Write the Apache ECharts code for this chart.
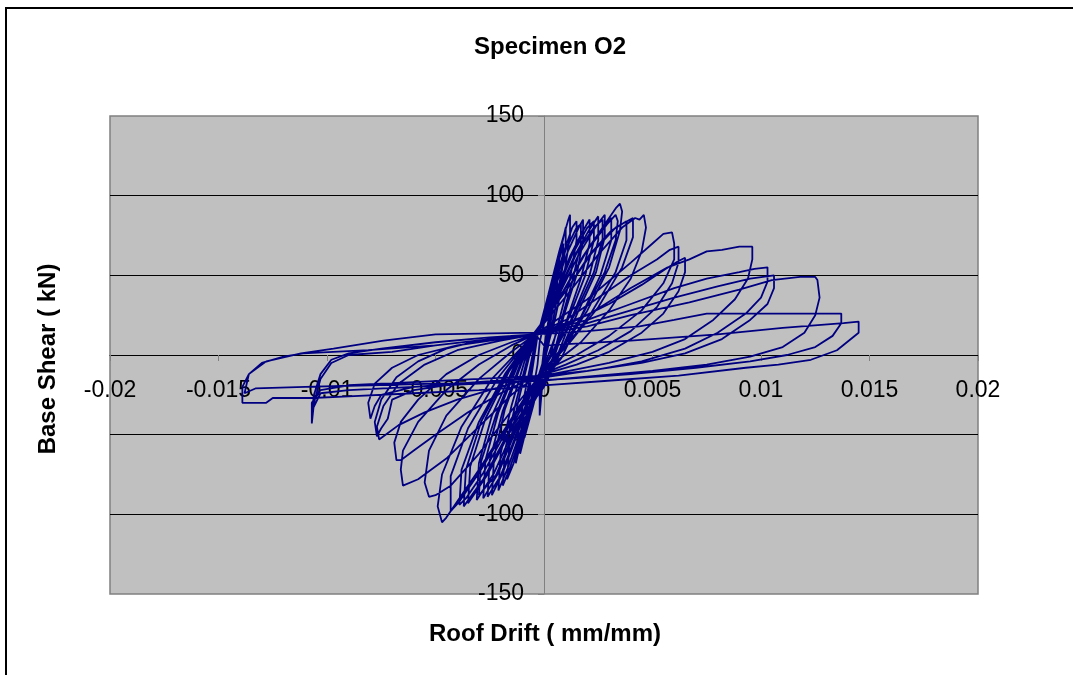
<!DOCTYPE html>
<html>
<head>
<meta charset="utf-8">
<script src="https://cdn.jsdelivr.net/npm/echarts@6/dist/echarts.min.js"></script>
<style>
html,body{margin:0;padding:0;background:#fff;}
#c{width:1073px;height:675px;}
</style>
</head>
<body>
<div id="c"></div>
<script>
// ---- axis ticks ----
const xTicks = [-0.02, -0.015, -0.01, -0.005, 0, 0.005, 0.01, 0.015, 0.02];
const xTickLabels = ['-0.02', '-0.015', '-0.01', '-0.005', '0', '0.005', '0.01', '0.015', '0.02'];
const yTicks = [-150, -100, -50, 0, 50, 100, 150];
const yTickLabels = ['-150', '-100', '-50', '0', '50', '100', '150'];

// ---- hysteresis cycles: [roof drift (mm/mm), base shear (kN)] ----
const cycle01 = [[0,0],[0.0002,18],[0.0004,38],[0.0005,45],[0.0004,30],[0.0002,10],[0.0,-8],[-0.0001,-22],[-0.0002,-38],[-0.0002,-25],[-0.0001,-8],[0.0,4]];
const cycle02 = [[0.0,4],[0.0003,30],[0.0006,52],[0.0007,60],[0.0006,44],[0.0003,20],[0.0,-2],[-0.0003,-18],[-0.0005,-30],[-0.0006,-37],[-0.0005,-22],[-0.0003,-6],[-0.0002,8]];
const cycle03 = [[-0.0002,8],[0.0002,32],[0.0006,55],[0.0009,70],[0.0008,52],[0.0005,28],[0.0002,6],[-0.0001,-10],[-0.0005,-32],[-0.0009,-52],[-0.0008,-35],[-0.0006,-15],[-0.0003,12]];
const cycle03b = [[-0.0003,12],[0.0002,36],[0.0007,62],[0.001,80],[0.001,68],[0.0007,42],[0.0003,14],[-0.0002,-12],[-0.0007,-40],[-0.0011,-62],[-0.001,-44],[-0.0007,-18],[-0.0003,12]];
const cycle04 = [[-0.0003,12],[0.0002,38],[0.0007,65],[0.0011,84],[0.0012,88],[0.0012,75],[0.0009,48],[0.0005,22],[0.0001,2],[-0.0003,-15],[-0.0008,-42],[-0.0012,-62],[-0.0013,-68],[-0.0012,-50],[-0.0009,-25],[-0.0005,2],[-0.0003,13]];
const cycle05 = [[-0.0003,13],[0.0003,38],[0.0009,64],[0.0013,80],[0.0015,84],[0.0015,72],[0.0012,48],[0.0007,22],[0.0003,0],[-0.0001,-12],[-0.0009,-45],[-0.0014,-68],[-0.0017,-78],[-0.0016,-58],[-0.0012,-30],[-0.0007,-2],[-0.0003,13]];
const cycle05b = [[-0.0003,13],[0.0004,40],[0.001,66],[0.0015,80],[0.0017,82],[0.0017,70],[0.0013,46],[0.0008,22],[0.0002,0],[-0.0004,-18],[-0.001,-48],[-0.0016,-72],[-0.0019,-82],[-0.0018,-60],[-0.0013,-30],[-0.0008,-4],[-0.0003,13]];
const cycle06 = [[-0.0003,13],[0.0004,38],[0.0011,65],[0.0016,80],[0.0018,85],[0.0018,72],[0.0015,50],[0.0009,24],[0.0004,-2],[-0.0001,-16],[-0.001,-45],[-0.0017,-72],[-0.0021,-85],[-0.002,-62],[-0.0015,-32],[-0.0009,-4],[-0.0003,13]];
const cycle07 = [[-0.0003,13],[0.0005,38],[0.0012,62],[0.0018,78],[0.0021,85],[0.0021,70],[0.0017,48],[0.0011,24],[0.0005,0],[0.0,-18],[-0.0011,-45],[-0.0019,-74],[-0.0024,-88],[-0.0023,-64],[-0.0018,-34],[-0.001,-4],[-0.0003,13]];
const cycle07b = [[-0.0003,13],[0.0006,40],[0.0013,63],[0.002,80],[0.0023,84],[0.0023,72],[0.0019,50],[0.0012,25],[0.0004,2],[-0.0004,-16],[-0.0012,-47],[-0.002,-76],[-0.0026,-89],[-0.0025,-66],[-0.0019,-35],[-0.0011,-6],[-0.0003,13]];
const cycle08 = [[-0.0003,13],[0.0006,38],[0.0014,62],[0.0021,79],[0.0025,87],[0.0025,72],[0.0021,50],[0.0013,24],[0.0006,-1],[0.0001,-15],[-0.0012,-44],[-0.0021,-74],[-0.0028,-90],[-0.0027,-66],[-0.0021,-36],[-0.0012,-6],[-0.0003,13]];
const cycle08b = [[-0.0003,13],[0.0007,40],[0.0015,64],[0.0023,80],[0.0027,85],[0.0027,73],[0.0023,52],[0.0014,25],[0.0005,3],[-0.0003,-15],[-0.0013,-46],[-0.0022,-75],[-0.003,-88],[-0.0029,-67],[-0.0022,-37],[-0.0013,-7],[-0.0003,13]];
const cycle09 = [[-0.0003,13],[0.0007,38],[0.0016,63],[0.0024,81],[0.0028,88],[0.0028,74],[0.0024,52],[0.0015,25],[0.0007,0],[0.0,-20],[-0.0013,-44],[-0.0023,-74],[-0.0031,-91],[-0.003,-68],[-0.0024,-38],[-0.0014,-8],[-0.0004,13]];
const cycle10 = [[-0.0004,13],[0.0008,38],[0.0018,62],[0.0027,80],[0.0031,86],[0.0031,72],[0.0026,50],[0.0017,24],[0.0008,-2],[0.0002,-12],[-0.0014,-44],[-0.0026,-75],[-0.0035,-93],[-0.0034,-70],[-0.0027,-40],[-0.0016,-10],[-0.0004,13]];
const cycle10b = [[-0.0004,13],[0.0009,40],[0.0019,64],[0.0029,82],[0.0033,88],[0.0034,84],[0.0033,72],[0.0028,52],[0.0018,26],[0.0008,4],[-0.0003,-15],[-0.0015,-45],[-0.0028,-78],[-0.0037,-95],[-0.0036,-72],[-0.0029,-42],[-0.0017,-11],[-0.0004,13]];
const cycle11 = [[-0.0004,13],[0.0009,40],[0.002,66],[0.003,86],[0.0033,92],[0.0035,95],[0.0036,90],[0.0035,78],[0.003,55],[0.002,28],[0.0009,5],[-0.0002,-12],[-0.0015,-42],[-0.0028,-74],[-0.0036,-90],[-0.0039,-94],[-0.0038,-72],[-0.003,-42],[-0.0018,-12],[-0.0005,13]];
const cycle11b = [[-0.0005,13],[0.001,40],[0.0021,63],[0.0031,78],[0.0038,84],[0.0038,72],[0.0033,52],[0.0022,27],[0.001,5],[-0.0002,-13],[-0.0016,-43],[-0.003,-74],[-0.0039,-92],[-0.0043,-98],[-0.0043,-76],[-0.0035,-46],[-0.0021,-14],[-0.0005,13]];
const cycle12 = [[-0.0005,13],[0.001,40],[0.0022,64],[0.0033,80],[0.0041,86],[0.0041,74],[0.0036,55],[0.0025,30],[0.0012,8],[-0.0002,-12],[-0.0016,-42],[-0.003,-72],[-0.004,-92],[-0.0045,-102],[-0.0047,-105],[-0.0049,-95],[-0.0047,-75],[-0.0038,-45],[-0.0024,-15],[-0.0008,8],[-0.0004,13]];
const cycle13 = [[-0.0004,13],[0.0012,40],[0.0025,63],[0.0036,80],[0.0042,86],[0.0044,85],[0.0046,88],[0.0047,80],[0.0045,65],[0.004,48],[0.003,28],[0.0017,8],[0.0,-10],[-0.0015,-35],[-0.003,-62],[-0.0043,-82],[-0.005,-88],[-0.0053,-89],[-0.0055,-80],[-0.0053,-60],[-0.0045,-38],[-0.003,-15],[-0.0015,2],[-0.0004,13]];
const cycle14 = [[-0.0004,13],[0.002,35],[0.004,58],[0.005,70],[0.0055,76],[0.0059,77],[0.006,70],[0.006,60],[0.0055,45],[0.0045,28],[0.003,12],[0.0015,0],[0,-10],[-0.0015,-25],[-0.003,-45],[-0.0045,-65],[-0.0058,-78],[-0.0065,-82],[-0.0066,-72],[-0.0065,-60],[-0.0058,-42],[-0.0045,-22],[-0.003,-6],[-0.0015,6],[-0.0004,13]];
const cycle15 = [[-0.0004,13],[0.001,22],[0.0025,36],[0.004,50],[0.0052,60],[0.0058,66],[0.0062,68],[0.0062,58],[0.0059,45],[0.0052,30],[0.004,15],[0.0025,3],[0.001,-6],[-0.0005,-14],[-0.002,-24],[-0.0035,-36],[-0.005,-50],[-0.006,-60],[-0.0066,-66],[-0.0068,-66],[-0.0069,-55],[-0.0066,-42],[-0.0058,-28],[-0.0045,-12],[-0.003,0],[-0.0015,8],[-0.0004,13]];
const cycle16 = [[-0.0004,13],[0.0012,20],[0.003,32],[0.0045,44],[0.0056,54],[0.0062,59],[0.0065,61],[0.0065,52],[0.0062,40],[0.0055,26],[0.0045,14],[0.003,2],[0.0015,-6],[0,-12],[-0.002,-20],[-0.004,-28],[-0.0055,-36],[-0.0067,-44],[-0.0073,-50],[-0.0076,-53],[-0.0077,-45],[-0.0074,-32],[-0.0067,-18],[-0.0055,-6],[-0.004,3],[-0.002,9],[-0.0004,13]];
const cycle17 = [[-0.0004,13],[0.002,25],[0.004,42],[0.0057,55],[0.0067,60],[0.0075,65],[0.0082,66],[0.009,68],[0.0096,68],[0.0096,60],[0.0094,48],[0.0088,35],[0.0078,22],[0.0065,10],[0.005,2],[0.003,-5],[0.0015,-9],[0,-13],[-0.002,-16],[-0.004,-18],[-0.006,-22],[-0.007,-28],[-0.0072,-40],[-0.0075,-46],[-0.0077,-51],[-0.0078,-42],[-0.0075,-28],[-0.0068,-14],[-0.0058,-4],[-0.0045,4],[-0.003,9],[-0.0015,12],[-0.0004,13]];
const cycle18 = [[-0.0004,13],[0.002,22],[0.004,32],[0.006,42],[0.0075,48],[0.009,52],[0.0097,54],[0.0103,55],[0.0103,46],[0.01,36],[0.0093,26],[0.008,14],[0.0065,4],[0.0045,-4],[0.0025,-9],[0,-14],[-0.003,-17],[-0.006,-20],[-0.0075,-25],[-0.0078,-32],[-0.008,-40],[-0.0081,-30],[-0.0078,-18],[-0.007,-8],[-0.0058,0],[-0.004,6],[-0.002,10],[-0.0004,13]];
const cycle19 = [[-0.0004,13],[0.002,20],[0.004,28],[0.006,36],[0.008,43],[0.0095,48],[0.0106,50],[0.0106,42],[0.0103,32],[0.0095,22],[0.0082,10],[0.0065,1],[0.0045,-5],[0.002,-10],[0,-13],[-0.003,-15],[-0.006,-17],[-0.009,-19],[-0.0103,-22],[-0.0107,-30],[-0.0107,-36],[-0.0106,-25],[-0.0103,-12],[-0.0098,-3],[-0.009,1],[-0.0075,4],[-0.005,8],[-0.0025,11],[-0.0004,13]];
const cycle20 = [[-0.0004,13],[0.002,18],[0.004,25],[0.0067,33],[0.009,41],[0.0105,47],[0.0118,49],[0.0125,49],[0.0126,47],[0.0127,36],[0.0125,25],[0.012,14],[0.011,5],[0.0095,-1],[0.0075,-6],[0.005,-10],[0.0025,-13],[0,-16],[-0.003,-18],[-0.006,-20],[-0.009,-22],[-0.0103,-24],[-0.0107,-35],[-0.0107,-43],[-0.0106,-30],[-0.0103,-15],[-0.0098,-5],[-0.009,0],[-0.007,2],[-0.005,6],[-0.0025,10],[-0.0004,13]];
const cycle21 = [[-0.0004,13],[0.002,15],[0.0044,18],[0.006,22],[0.0075,26],[0.01,26],[0.0124,26],[0.0137,26],[0.0137,20],[0.0133,12],[0.0125,5],[0.0112,0],[0.0095,-4],[0.007,-8],[0.004,-12],[0.001,-15],[-0.002,-17],[-0.005,-18],[-0.008,-19],[-0.011,-20],[-0.0133,-21],[-0.0138,-24],[-0.0136,-12],[-0.013,-5],[-0.012,-1],[-0.0111,1],[-0.0081,3],[-0.005,6],[-0.0025,10],[-0.0004,13]];
const cycle22 = [[-0.0004,13],[0,6],[0.004,9],[0.008,13],[0.011,17],[0.0138,20],[0.0145,21],[0.0145,14],[0.0135,3],[0.0123,-3],[0.0108,-6],[0.0093,-8],[0.0062,-13],[0.0031,-16],[0,-19],[-0.003,-22],[-0.006,-24],[-0.009,-26],[-0.0107,-27],[-0.0125,-27],[-0.0128,-30],[-0.0139,-30],[-0.0139,-20],[-0.0136,-12],[-0.0128,-4],[-0.0112,1],[-0.0097,4],[-0.0074,9],[-0.005,13],[-0.0004,14]];

const cycles = [cycle01, cycle02, cycle03, cycle03b, cycle04, cycle05, cycle05b, cycle06, cycle07, cycle07b, cycle08, cycle08b,
  cycle09, cycle10, cycle10b, cycle11, cycle11b, cycle12, cycle13, cycle14, cycle15, cycle16, cycle17, cycle18,
  cycle19, cycle20, cycle21, cycle22];

const FONT = '"Liberation Sans", Arial, sans-serif';
const chart = echarts.init(document.getElementById('c'), null, {renderer: 'canvas'});

const xMin = xTicks[0], xMax = xTicks[xTicks.length - 1], xStep = xTicks[1] - xTicks[0];
const yMin = yTicks[0], yMax = yTicks[yTicks.length - 1], yStep = yTicks[1] - yTicks[0];

chart.setOption({
  animation: false,
  backgroundColor: '#ffffff',
  title: {
    text: 'Specimen O2',
    left: 545, top: 30, textAlign: 'center',
    textStyle: {fontFamily: FONT, fontSize: 24, fontWeight: 'bold', color: '#000'}
  },
  graphic: [
    {type: 'rect', shape: {x: 6, y: 8, width: 1200, height: 800}, style: {fill: 'none', stroke: '#000', lineWidth: 2}, silent: true},
    {type: 'text', x: 545, y: 634, style: {text: 'Roof Drift ( mm/mm)', font: 'bold 24px ' + FONT, fill: '#000', textAlign: 'center', textVerticalAlign: 'middle'}},
    {type: 'text', x: 48, y: 359, rotation: Math.PI / 2, style: {text: 'Base Shear ( kN)', font: 'bold 24px ' + FONT, fill: '#000', textAlign: 'center', textVerticalAlign: 'middle'}}
  ],
  grid: {
    left: 110, right: 95, top: 116, bottom: 81,
    show: true, backgroundColor: '#C0C0C0', borderColor: '#808080', borderWidth: 1.5
  },
  xAxis: {
    type: 'value', min: xMin, max: xMax, interval: xStep,
    position: 'bottom', offset: -239,
    axisLine: {onZero: false, lineStyle: {color: '#000', width: 1}},
    axisTick: {show: true, length: 6, lineStyle: {color: '#808080'}},
    axisLabel: {
      margin: 24, fontFamily: FONT, fontSize: 23, color: '#000',
      formatter: v => xTickLabels[Math.round((v - xMin) / xStep)]
    },
    splitLine: {show: false}
  },
  yAxis: {
    type: 'value', min: yMin, max: yMax, interval: yStep,
    position: 'left', offset: -434,
    axisLine: {onZero: false, lineStyle: {color: '#808080', width: 1}},
    axisTick: {show: true, length: 6, lineStyle: {color: '#808080'}},
    axisLabel: {
      margin: 20, fontFamily: FONT, fontSize: 23, color: '#000',
      formatter: v => yTickLabels[Math.round((v - yMin) / yStep)]
    },
    splitLine: {show: true, showMinLine: false, showMaxLine: false, lineStyle: {color: '#000', width: 1}}
  },
  series: [{
    type: 'line',
    data: cycles.flat(),
    showSymbol: false,
    symbol: 'none',
    lineStyle: {color: '#000080', width: 1.8},
    clip: true
  }]
});
</script>
</body>
</html>
